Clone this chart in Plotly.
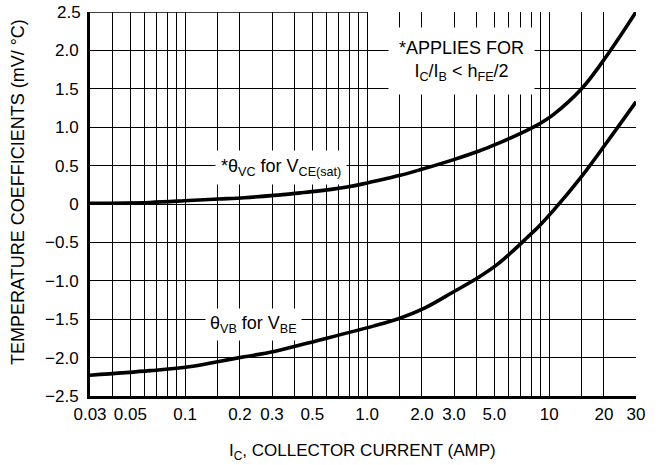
import numpy as np
import plotly.graph_objects as go

# ---- data ----
ic_vc = [0.03, 0.064, 0.105, 0.153, 0.211, 0.308, 0.428, 0.53, 0.649, 0.775, 0.949, 1.08, 1.5,
         1.95, 2.96, 4.12, 5.24, 6.33, 7.55, 8.79, 10.5, 15.2, 21.0, 30]
theta_vc = [0.01, 0.02, 0.045, 0.065, 0.082, 0.112, 0.145, 0.168, 0.194, 0.222, 0.262, 0.292,
            0.37, 0.445, 0.575, 0.69, 0.79, 0.875, 0.96, 1.04, 1.16, 1.51, 1.95, 2.5]

ic_vb = [0.03, 0.064, 0.105, 0.153, 0.211, 0.308, 0.53, 1.08, 1.5, 2.05, 3.0, 4.12, 5.17, 6.33,
         7.55, 8.79, 10.5, 15.2, 21.0, 30]
theta_vb = [-2.23, -2.17, -2.12, -2.05, -1.99, -1.92, -1.78, -1.59, -1.49, -1.36, -1.14, -0.95,
            -0.79, -0.61, -0.44, -0.29, -0.09, 0.37, 0.82, 1.33]

x_ticks = [0.03, 0.05, 0.1, 0.2, 0.3, 0.5, 1.0, 2.0, 3.0, 5.0, 10, 20, 30]
x_tick_labels = ["0.03", "0.05", "0.1", "0.2", "0.3", "0.5", "1.0", "2.0", "3.0", "5.0",
                 "10", "20", "30"]
x_minor_grid = [0.04, 0.06, 0.07, 0.08, 0.09, 0.15, 0.4, 0.6, 0.7, 0.8, 0.9, 1.5, 4.0, 6.0,
                7.0, 8.0, 9.0, 15]
y_grid = [-2.5, -2.0, -1.5, -1.0, -0.5, 0, 0.5, 1.0, 1.5, 2.0]
y_grid_labels = ["\u22122.5", "\u22122.0", "\u22121.5", "\u22121.0", "\u22120.5", "0",
                 "0.5", "1.0", "1.5", "2.0"]
y_top = 2.5
y_top_label = "2.5"
top_line_end = 1.0   # the top border only runs from the left axis to I_C = 1.0

X_MIN, X_MAX = 0.03, 30
FONT = "Liberation Sans, Arial, sans-serif"

fig = go.Figure()
for xs, ys in ((ic_vc, theta_vc), (ic_vb, theta_vb)):
    fig.add_trace(go.Scatter(x=xs, y=ys, mode="lines",
                             line=dict(color="black", width=3.6, shape="spline", smoothing=1.0),
                             hoverinfo="skip", showlegend=False))

lmin, lmax = np.log10(X_MIN), np.log10(X_MAX)
def dom(v):
    return (np.log10(v) - lmin) / (lmax - lmin)

# partial top border
fig.add_shape(type="line", xref="x domain", yref="y", x0=0, x1=dom(top_line_end), y0=y_top, y1=y_top,
              line=dict(color="black", width=1.3))
# label of the top value
fig.add_annotation(xref="paper", yref="y", x=0, y=y_top, xanchor="right", yanchor="middle", xshift=-7,
                   text=y_top_label, showarrow=False,
                   font=dict(family=FONT, size=17, color="black"))

ann_font = dict(family=FONT, size=18, color="black")
common = dict(showarrow=False, font=ann_font, bgcolor="white", xanchor="center", yanchor="middle")
fig.add_annotation(xref="x domain", yref="y", x=0.35, y=0.47,
                   text="*\u03b8<sub>VC</sub> for V<sub>CE(sat)</sub>", borderpad=5, **common)
fig.add_annotation(xref="x domain", yref="y", x=0.680, y=1.86,
                   text="*APPLIES FOR<br>I<sub>C</sub>/I<sub>B</sub> &lt; h<sub>FE</sub>/2",
                   borderpad=10, **common)
fig.add_annotation(xref="x domain", yref="y", x=0.300, y=-1.57,
                   text="\u03b8<sub>VB</sub> for V<sub>BE</sub>", borderpad=4, **common)

# axis titles
fig.add_annotation(xref="paper", yref="paper", x=-0.132, y=0.531, textangle=-90,
                   xanchor="center", yanchor="middle",
                   text="TEMPERATURE COEFFICIENTS (mV/ \u00b0C)", showarrow=False,
                   font=dict(family=FONT, size=18, color="black"))
fig.add_annotation(xref="paper", yref="paper", x=0.499, y=-0.146,
                   xanchor="center", yanchor="middle",
                   text="I<sub>C</sub>, COLLECTOR CURRENT (AMP)", showarrow=False,
                   font=dict(family=FONT, size=17, color="black"))

fig.update_xaxes(type="log", range=[lmin, lmax], tickmode="array", tickvals=x_ticks,
                 ticktext=x_tick_labels,
                 showgrid=True, gridcolor="black", gridwidth=1.3,
                 minor=dict(tickmode="array", tickvals=x_minor_grid, showgrid=True,
                            gridcolor="black", gridwidth=1.3, ticks=""),
                 showline=True, linecolor="black", linewidth=3, ticks="outside", ticklen=1,
                 tickcolor="rgba(0,0,0,0)",
                 tickfont=dict(family=FONT, size=17, color="black"), zeroline=False, fixedrange=True)
fig.update_yaxes(range=[-2.5, 2.5], tickmode="array", tickvals=y_grid, ticktext=y_grid_labels,
                 showgrid=True, gridcolor="black", gridwidth=1.3,
                 showline=True, linecolor="black", linewidth=3, ticks="outside", ticklen=5,
                 tickcolor="rgba(0,0,0,0)",
                 tickfont=dict(family=FONT, size=17, color="black"), zeroline=False, fixedrange=True)

fig.update_layout(width=660, height=465, margin=dict(l=90, r=24, t=12, b=69),
                  plot_bgcolor="white", paper_bgcolor="white", showlegend=False)

fig.write_html("out.html", config={"displayModeBar": False},
               post_script="document.body.style.margin='0';")
